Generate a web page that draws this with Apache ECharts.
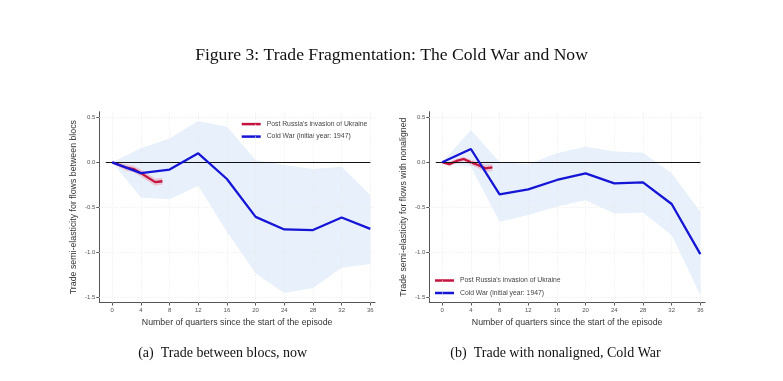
<!DOCTYPE html>
<html>
<head>
<meta charset="utf-8">
<script src="https://cdn.jsdelivr.net/npm/echarts@6/dist/echarts.min.js"></script>
<style>html,body{margin:0;padding:0;background:#fff}#c{width:783px;height:381px}</style>
</head>
<body>
<div id="c"></div>
<script>
// ---- Data ----
const quartersCW = [0, 4, 8, 12, 16, 20, 24, 28, 32, 36];
const quartersRU = [0, 1, 2, 3, 4, 5, 6, 7];
const xTicks = [0, 4, 8, 12, 16, 20, 24, 28, 32, 36];
const yTicks = [0.5, 0, -0.5, -1.0, -1.5];

// Panel (a): Trade between blocs, now
const blocsCW      = [0, -0.12, -0.08, 0.10, -0.185, -0.605, -0.745, -0.752, -0.612, -0.738];
const blocsCWUpper = [0, 0.155, 0.265, 0.46, 0.395, 0.025, -0.03, -0.075, -0.05, -0.365];
const blocsCWLower = [0, -0.39, -0.41, -0.26, -0.77, -1.23, -1.45, -1.395, -1.17, -1.13];
const blocsRU      = [0, -0.03, -0.06, -0.075, -0.12, -0.17, -0.22, -0.21];
const blocsRUUpper = [0, -0.005, -0.025, -0.04, -0.08, -0.13, -0.18, -0.175];
const blocsRULower = [0, -0.055, -0.095, -0.11, -0.16, -0.21, -0.26, -0.245];

// Panel (b): Trade with nonaligned, Cold War
const nonalCW      = [0, 0.148, -0.356, -0.30, -0.196, -0.122, -0.233, -0.222, -0.463, -1.019];
const nonalCWUpper = [0, 0.36, 0.005, -0.02, 0.10, 0.174, 0.119, 0.107, -0.12, -0.548];
const nonalCWLower = [0, -0.05, -0.66, -0.585, -0.49, -0.42, -0.567, -0.556, -0.807, -1.474];
const nonalRU      = [0, -0.02, 0.015, 0.037, 0.0, -0.03, -0.067, -0.056];
const nonalRUUpper = [0, 0.005, 0.04, 0.062, 0.03, 0.005, -0.025, -0.02];
const nonalRULower = [0, -0.045, -0.01, 0.012, -0.03, -0.065, -0.11, -0.095];

const nameRU = "Post Russia's invasion of Ukraine";
const nameCW = "Cold War (initial year: 1947)";
const yTitleA = "Trade semi-elasticity for flows between blocs";
const yTitleB = "Trade semi-elasticity for flows with nonaligned";
const xTitle = "Number of quarters since the start of the episode";

// ---- Styles ----
const RED = '#c4133f', BLUE = '#1515d6';
const SANS = 'Liberation Sans, Arial, sans-serif';
const SERIF = 'Liberation Serif, Times New Roman, serif';

const pairs = (xs, ys) => xs.map((x, i) => [x, ys[i]]);

function bandSeries(idx, xs, lo, hi, color) {
  return {
    type: 'custom', xAxisIndex: idx, yAxisIndex: idx, silent: true, z: 1,
    data: xs.map((x, i) => [x, lo[i], hi[i]]),
    encode: {x: 0, y: [1, 2]},
    renderItem: function (params, api) {
      if (params.dataIndex !== 0) return null;
      const pts = [];
      for (let i = 0; i < xs.length; i++) pts.push(api.coord([xs[i], hi[i]]));
      for (let i = xs.length - 1; i >= 0; i--) pts.push(api.coord([xs[i], lo[i]]));
      return {type: 'polygon', shape: {points: pts}, style: {fill: color}};
    }
  };
}

function gridSeries(idx) {
  const items = [];
  xTicks.forEach(v => items.push({xAxis: v}));
  yTicks.forEach(v => { if (v !== 0) items.push({yAxis: v}); });
  return {
    type: 'line', xAxisIndex: idx, yAxisIndex: idx, data: [], silent: true, z: 0,
    markLine: {silent: true, symbol: 'none', label: {show: false},
      lineStyle: {color: '#eaeaea', type: [1, 2], width: 1}, data: items, animation: false}
  };
}

function zeroLine(idx) {
  return {
    type: 'line', xAxisIndex: idx, yAxisIndex: idx, data: [], silent: true, z: 3,
    markLine: {silent: true, symbol: 'none', label: {show: false},
      lineStyle: {color: '#111', type: 'solid', width: 1},
      data: [[{coord: [-0.9, 0]}, {coord: [36, 0]}]], animation: false}
  };
}

function xAxisDef(idx) {
  return {
    type: 'value', gridIndex: idx, min: -1.8, max: 36.65,
    name: xTitle, nameLocation: 'middle', nameGap: 14.5,
    nameTextStyle: {fontFamily: SANS, fontSize: 8.8, color: '#333'},
    axisLine: {show: true, onZero: false, lineStyle: {color: '#555', width: 1}},
    axisTick: {show: true, length: 3, customValues: xTicks, lineStyle: {color: '#555'}},
    axisLabel: {customValues: xTicks, fontFamily: SANS, fontSize: 6, color: '#555', margin: 5},
    splitLine: {show: false}
  };
}
function yAxisDef(idx, title) {
  return {
    type: 'value', gridIndex: idx, min: -1.556, max: 0.562,
    name: title, nameLocation: 'middle', nameGap: 21, nameRotate: 90,
    nameTextStyle: {fontFamily: SANS, fontSize: 8.8, color: '#333'},
    axisLine: {show: true, onZero: false, lineStyle: {color: '#555', width: 1}},
    axisTick: {show: true, length: 3, customValues: yTicks, lineStyle: {color: '#555'}},
    axisLabel: {customValues: yTicks, fontFamily: SANS, fontSize: 6, color: '#555', margin: 4,
      formatter: v => v.toFixed(1)},
    splitLine: {show: false}
  };
}

function lineSeries(idx, name, xs, ys, color, z) {
  return {type: 'line', name: name, xAxisIndex: idx, yAxisIndex: idx, data: pairs(xs, ys),
    symbol: 'none', lineStyle: {color: color, width: 2.3}, itemStyle: {color: color}, z: z};
}

function legendDef(left, top) {
  return {
    orient: 'vertical', left: left, top: top, itemWidth: 19, itemHeight: 2.5, itemGap: 5.5,
    icon: 'rect', data: [{name: nameRU}, {name: nameCW}], padding: 0, selectedMode: false,
    textStyle: {fontFamily: SANS, fontSize: 6.8, color: '#444', padding: [0, 0, 0, 1]}
  };
}

const chart = echarts.init(document.getElementById('c'), null, {renderer: 'canvas'});
chart.setOption({
  animation: false,
  backgroundColor: '#fff',
  grid: [
    {left: 99.3, right: 408, top: 111.7, bottom: 78.5, containLabel: false},
    {left: 429.3, right: 78, top: 111.7, bottom: 78.5, containLabel: false}
  ],
  xAxis: [xAxisDef(0), xAxisDef(1)],
  yAxis: [yAxisDef(0, yTitleA), yAxisDef(1, yTitleB)],
  legend: [legendDef(241.7, 120.6), legendDef(435, 277)],
  graphic: [
    {type: 'text', left: 'center', top: 46, style: {text: 'Figure 3: Trade Fragmentation: The Cold War and Now',
      font: '17.6px ' + SERIF, fill: '#111'}},
    {type: 'text', x: 222.7, y: 353, style: {text: '(a)  Trade between blocs, now',
      font: '14px ' + SERIF, fill: '#111', align: 'center', verticalAlign: 'middle'}},
    {type: 'text', x: 555.5, y: 353, style: {text: '(b)  Trade with nonaligned, Cold War',
      font: '14px ' + SERIF, fill: '#111', align: 'center', verticalAlign: 'middle'}}
  ],
  series: [
    gridSeries(0), gridSeries(1),
    bandSeries(0, quartersCW, blocsCWLower, blocsCWUpper, '#e7f0fb'),
    bandSeries(0, quartersRU, blocsRULower, blocsRUUpper, 'rgba(232,170,190,0.6)'),
    bandSeries(1, quartersCW, nonalCWLower, nonalCWUpper, '#e7f0fb'),
    bandSeries(1, quartersRU, nonalRULower, nonalRUUpper, 'rgba(232,170,190,0.6)'),
    zeroLine(0), zeroLine(1),
    lineSeries(0, nameRU, quartersRU, blocsRU, RED, 4),
    lineSeries(0, nameCW, quartersCW, blocsCW, BLUE, 5),
    lineSeries(1, nameRU, quartersRU, nonalRU, RED, 4),
    lineSeries(1, nameCW, quartersCW, nonalCW, BLUE, 5)
  ]
});
</script>
</body>
</html>
